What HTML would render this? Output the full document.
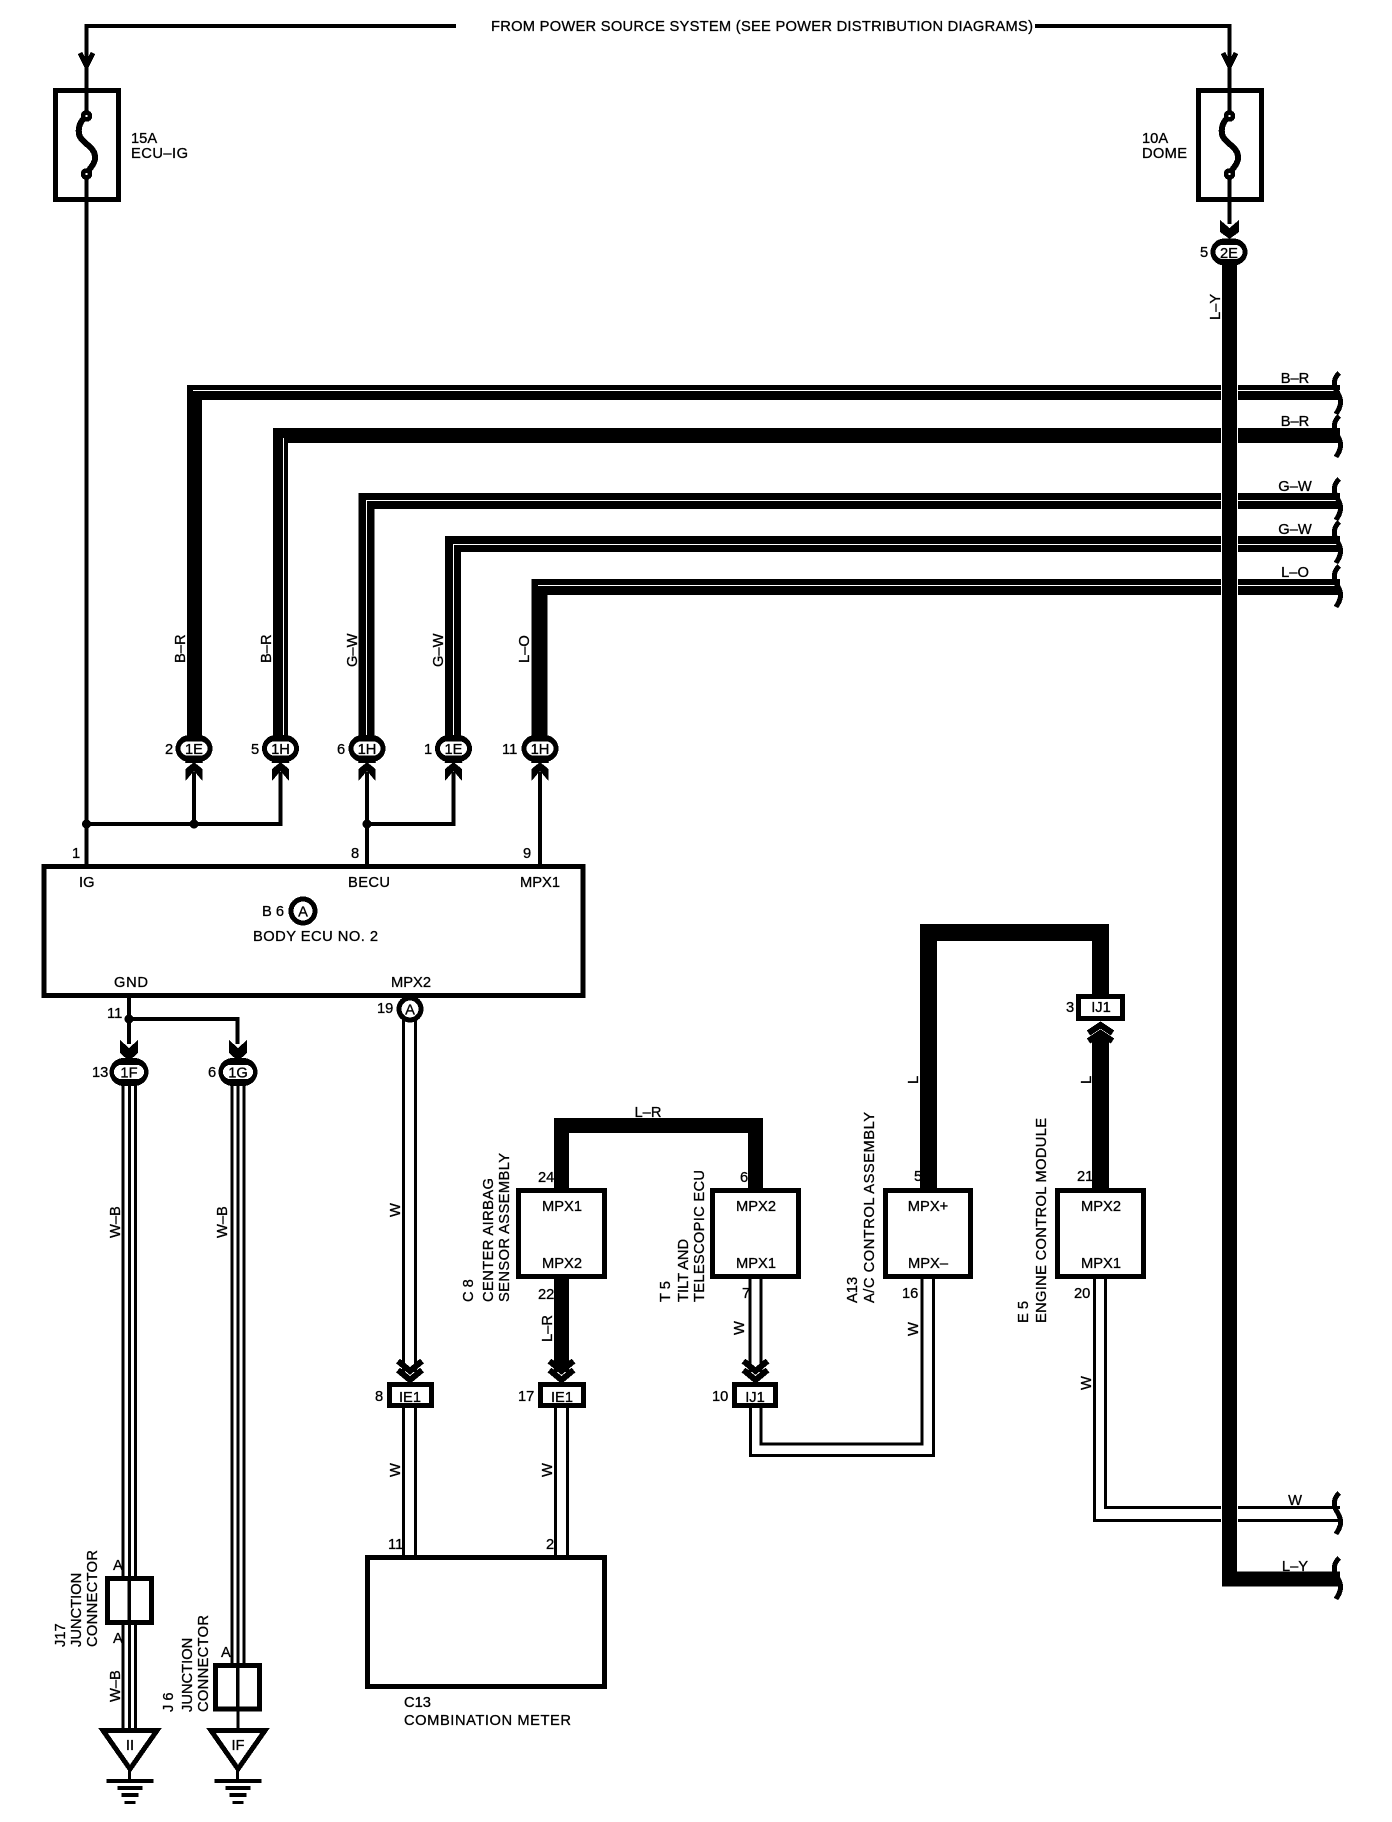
<!DOCTYPE html>
<html><head><meta charset="utf-8"><style>
html,body{margin:0;padding:0;background:#fff}
svg{display:block;shape-rendering:crispEdges}
text{font-family:"Liberation Sans",sans-serif;font-size:14.7px;fill:#000;stroke:#000;stroke-width:.3}
.m{text-anchor:middle}
.w{fill:none;stroke:#000}
</style></head><body>
<svg width="1392" height="1822" viewBox="0 0 1392 1822" xmlns="http://www.w3.org/2000/svg">
<defs>
<g id="fuse">
<path class="w" stroke-width="6" d="M85 117C80 122 78 128 79 134C81 143 94 146 95 156C96 163 90 168 87 173"/>
<circle cx="86.5" cy="116" r="3.5" fill="#fff" stroke="#000" stroke-width="4.5"/>
<circle cx="86.5" cy="174" r="3.5" fill="#fff" stroke="#000" stroke-width="4.5"/>
<rect x="55.5" y="90.5" width="63" height="109" fill="none" stroke="#000" stroke-width="5"/>
</g>
<g id="conn">
<rect x="-18.5" y="-13.5" width="37" height="27" rx="14" fill="#000"/>
<rect x="-13.5" y="-7" width="27" height="14" rx="7" fill="#fff"/>
</g>
<g id="up">
<polygon points="-8.5,33 0,23 8.5,33 8.5,21 0,14 -8.5,21"/>
<polygon points="-7,10 7,10 9,15 -9,15"/>
</g>
<polygon id="dn" points="-9,0 0,8 9,0 9,13 0,21 -9,13"/>
<g id="dbl">
<polyline class="w" stroke-width="6" points="-12,0 0,10 12,0"/>
<polyline class="w" stroke-width="6" points="-12,9 0,19 12,9"/>
</g>
<g id="gnd">
<rect x="-23" y="0" width="47" height="4"/>
<rect x="-12" y="7" width="25" height="4"/>
<rect x="-8" y="14" width="17" height="4"/>
<rect x="-5" y="22" width="11" height="3"/>
<rect x="-1.5" y="-9" width="3" height="9"/>
</g>
</defs>

<!-- top feed -->
<path class="w" stroke-width="4" d="M456 26H86.5V116"/>
<path class="w" stroke-width="4" d="M86.5 174V866"/>
<path class="w" stroke-width="4" d="M1035 26H1229.5V116"/>
<path class="w" stroke-width="4" d="M1229.5 174V224"/>
<path class="w" stroke-width="5" d="M80 53L86.5 66L93 53"/>
<path class="w" stroke-width="5" d="M1223 53L1229.5 66L1236 53"/>
<text x="491" y="31" textLength="542">FROM POWER SOURCE SYSTEM (SEE POWER DISTRIBUTION DIAGRAMS)</text>

<use href="#fuse"/>
<use href="#fuse" x="1143"/>
<text x="131" y="143">15A</text>
<text x="131" y="158" textLength="57">ECU–IG</text>
<text x="1142" y="143">10A</text>
<text x="1142" y="158" textLength="45">DOME</text>

<!-- bus wires -->
<path class="w" stroke-width="15" d="M194.5 748V392.5H1340"/>
<path class="w" stroke-width="15" d="M280.5 748V435.5H1340"/>
<path class="w" stroke-width="16" d="M366.5 748V501H1340"/>
<path class="w" stroke-width="16" d="M453 748V544H1340"/>
<path class="w" stroke-width="16" d="M539.5 748V587H1340"/>
<g fill="none" stroke="#fff" stroke-width="1">
<path d="M193 390.5H1340"/>
<path d="M283.5 438V738"/>
<path d="M366.5 738V500.5H1340"/>
<path d="M453.5 738V544.5H1340"/>
<path d="M538 585.5H1340"/>
</g>
<!-- W from E5 -->
<path class="w" stroke-width="3" d="M1094.5 1278V1520.5H1340"/>
<path class="w" stroke-width="3" d="M1105.5 1278V1507.5H1340"/>
<!-- L-Y vertical -->
<rect x="1221" y="370" width="17" height="1170" fill="#fff"/>
<path class="w" stroke-width="15" d="M1229.5 250V1579H1340"/>
<polygon points="1220,220 1229.5,228 1239,220 1239,232 1229.5,239 1220,232"/>
<polygon points="1222,264 1237,264 1237,272 1222,272"/>
<use href="#conn" x="1229" y="252"/>
<text class="m" x="1229" y="258">2E</text>
<text x="1200" y="257">5</text>
<text transform="translate(1220,320) rotate(-90)">L–Y</text>

<!-- curls -->
<g class="w" stroke-width="5">
<path class="w" id="c1" d="M1339 373C1334 378 1333 385 1336 390C1339 395 1342 400 1340 406C1339 410 1337 412 1336 414"/>
<use href="#c1" y="43"/>
<use href="#c1" y="106"/>
<use href="#c1" y="149"/>
<use href="#c1" y="193"/>
<use href="#c1" y="1120"/>
<use href="#c1" y="1185"/>
</g>

<text class="m" x="1295" y="383">B–R</text>
<text class="m" x="1295" y="426">B–R</text>
<text class="m" x="1295" y="491">G–W</text>
<text class="m" x="1295" y="534">G–W</text>
<text class="m" x="1295" y="577">L–O</text>
<text class="m" x="1295" y="1505">W</text>
<text class="m" x="1295" y="1571">L–Y</text>

<!-- vertical labels upper -->
<text transform="translate(185,663) rotate(-90)">B–R</text>
<text transform="translate(271,663) rotate(-90)">B–R</text>
<text transform="translate(357,667) rotate(-90)">G–W</text>
<text transform="translate(443,667) rotate(-90)">G–W</text>
<text transform="translate(529,663) rotate(-90)">L–O</text>

<!-- thin links -->
<path class="w" stroke-width="4" d="M194 772V824"/>
<path class="w" stroke-width="4" d="M280.5 772V824H86.5"/>
<path class="w" stroke-width="4" d="M367 772V866"/>
<path class="w" stroke-width="4" d="M453.5 772V824H367"/>
<path class="w" stroke-width="4" d="M540 772V866"/>
<path class="w" stroke-width="4" d="M129 996V1044"/>
<path class="w" stroke-width="4" d="M129 1019H237.5V1044"/>
<circle cx="86.5" cy="824" r="4.5"/>
<circle cx="194" cy="824" r="4.5"/>
<circle cx="367" cy="824" r="4.5"/>
<circle cx="129" cy="1019" r="4.5"/>

<!-- connectors row -->
<use href="#up" x="194" y="748"/>
<use href="#up" x="280.5" y="748"/>
<use href="#up" x="367" y="748"/>
<use href="#up" x="453.5" y="748"/>
<use href="#up" x="540" y="748"/>
<use href="#conn" x="194" y="748.5"/><text class="m" x="194" y="754">1E</text>
<use href="#conn" x="280.5" y="748.5"/><text class="m" x="280.5" y="754">1H</text>
<use href="#conn" x="367" y="748.5"/><text class="m" x="367" y="754">1H</text>
<use href="#conn" x="453.5" y="748.5"/><text class="m" x="453.5" y="754">1E</text>
<use href="#conn" x="540" y="748.5"/><text class="m" x="540" y="754">1H</text>
<text x="165" y="754">2</text>
<text x="251" y="754">5</text>
<text x="337" y="754">6</text>
<text x="424" y="754">1</text>
<text x="502" y="754">11</text>

<!-- ECU -->
<rect x="44" y="866.5" width="539" height="129" fill="#fff" stroke="#000" stroke-width="5"/>
<text x="72" y="858">1</text>
<text x="351" y="858">8</text>
<text x="523" y="858">9</text>
<text x="79" y="887">IG</text>
<text x="348" y="887" textLength="42">BECU</text>
<text x="520" y="887" textLength="40">MPX1</text>
<text x="262" y="916">B 6</text>
<circle cx="303" cy="911" r="12" fill="#fff" stroke="#000" stroke-width="5"/>
<text class="m" x="303" y="916.5">A</text>
<text x="253" y="941" textLength="125">BODY ECU NO. 2</text>
<text x="114" y="987" textLength="34">GND</text>
<text x="391" y="987" textLength="40">MPX2</text>

<!-- GND branches -->
<use href="#dn" x="129" y="1040"/>
<use href="#dn" x="238" y="1040"/>
<g stroke="#000" stroke-width="3">
<path d="M123 1080V1728M129.5 1080V1728M135.5 1080V1728"/>
<path d="M232 1080V1663M238 1080V1663M244 1080V1663"/>
<path d="M238 1711V1728"/>
</g>
<rect x="109.5" y="1058" width="39" height="28" rx="14"/>
<rect x="114" y="1065" width="30" height="14" rx="7" fill="#fff"/>
<text class="m" x="129" y="1077.5">1F</text>
<rect x="218.5" y="1058" width="39" height="28" rx="14"/>
<rect x="223" y="1065" width="30" height="14" rx="7" fill="#fff"/>
<text class="m" x="238" y="1077.5">1G</text>
<text x="92" y="1077">13</text>
<text x="208" y="1077">6</text>
<text x="107" y="1018">11</text>
<text transform="translate(120,1238) rotate(-90)">W–B</text>
<text transform="translate(227,1238) rotate(-90)">W–B</text>

<!-- J17 / J6 -->
<rect x="107.5" y="1578.5" width="44" height="44" fill="#fff" stroke="#000" stroke-width="5"/>
<rect x="127.5" y="1578" width="3.5" height="45"/>
<rect x="215.5" y="1665.5" width="44" height="43.5" fill="#fff" stroke="#000" stroke-width="5"/>
<rect x="236" y="1665" width="3.5" height="45"/>
<text x="113" y="1570">A</text>
<text x="113" y="1643">A</text>
<text x="221" y="1657">A</text>
<text transform="translate(120,1702) rotate(-90)">W–B</text>
<text transform="translate(65,1647) rotate(-90)">J17</text>
<text transform="translate(81,1647) rotate(-90)">JUNCTION</text>
<text transform="translate(97,1647) rotate(-90)" textLength="97">CONNECTOR</text>
<text transform="translate(173,1712) rotate(-90)">J 6</text>
<text transform="translate(192,1712) rotate(-90)">JUNCTION</text>
<text transform="translate(208,1712) rotate(-90)" textLength="97">CONNECTOR</text>

<!-- grounds -->
<polygon points="103,1730.5 157,1730.5 130,1769" fill="#fff" stroke="#000" stroke-width="5"/>
<polygon points="211,1730.5 265,1730.5 238,1769" fill="#fff" stroke="#000" stroke-width="5"/>
<text class="m" x="130" y="1750">II</text>
<text class="m" x="238" y="1750">IF</text>
<use href="#gnd" x="129.5" y="1779"/>
<use href="#gnd" x="237.5" y="1779"/>

<!-- MPX2 W down -->
<g stroke="#000" stroke-width="3">
<path d="M403.5 1015V1372M415.5 1015V1372"/>
<path d="M403.5 1408V1556M415.5 1408V1556"/>
<path d="M555.5 1408V1556M567.5 1408V1556"/>
</g>
<circle cx="410" cy="1009" r="11" fill="#fff" stroke="#000" stroke-width="5"/>
<text class="m" x="410" y="1014.5">A</text>
<text x="377" y="1013">19</text>
<text transform="translate(400,1217) rotate(-90)">W</text>
<text transform="translate(400,1477) rotate(-90)">W</text>
<text transform="translate(552,1477) rotate(-90)">W</text>
<use href="#dbl" x="410" y="1361"/>

<!-- C13 -->
<rect x="367.5" y="1557.5" width="237" height="129" fill="#fff" stroke="#000" stroke-width="5"/>
<text x="388" y="1549">11</text>
<text x="546" y="1549">2</text>
<text x="404" y="1707">C13</text>
<text x="404" y="1725" textLength="167">COMBINATION METER</text>

<!-- IE1 boxes -->
<rect x="389.5" y="1384.5" width="42" height="21" fill="#fff" stroke="#000" stroke-width="5"/>
<text class="m" x="410" y="1402">IE1</text>
<text x="375" y="1401">8</text>
<rect x="540.5" y="1384.5" width="43" height="21" fill="#fff" stroke="#000" stroke-width="5"/>
<text class="m" x="562" y="1402">IE1</text>
<text x="518" y="1401">17</text>
<rect x="734.5" y="1384.5" width="41" height="21" fill="#fff" stroke="#000" stroke-width="5"/>
<text class="m" x="755" y="1402">IJ1</text>
<text x="712" y="1401">10</text>

<!-- L-R -->
<path class="w" stroke-width="15" d="M561.5 1190V1125.5H755.5V1190"/>
<text class="m" x="648" y="1117">L–R</text>
<path class="w" stroke-width="15" d="M561.5 1278V1372"/>
<use href="#dbl" x="561.5" y="1361"/>
<text x="538" y="1182">24</text>
<text x="538" y="1299">22</text>
<text transform="translate(552,1342) rotate(-90)">L–R</text>
<text x="740" y="1182">6</text>
<text x="742" y="1298">7</text>
<text transform="translate(744,1335) rotate(-90)">W</text>

<!-- C8 T5 boxes -->
<rect x="518.5" y="1190.5" width="86" height="86" fill="#fff" stroke="#000" stroke-width="5"/>
<text class="m" x="562" y="1211">MPX1</text>
<text class="m" x="562" y="1268">MPX2</text>
<rect x="712.5" y="1190.5" width="86" height="86" fill="#fff" stroke="#000" stroke-width="5"/>
<text class="m" x="756" y="1211">MPX2</text>
<text class="m" x="756" y="1268">MPX1</text>
<text transform="translate(473,1302) rotate(-90)">C 8</text>
<text transform="translate(493,1302) rotate(-90)" textLength="124">CENTER AIRBAG</text>
<text transform="translate(509,1302) rotate(-90)" textLength="149">SENSOR ASSEMBLY</text>
<text transform="translate(670,1302) rotate(-90)">T 5</text>
<text transform="translate(688,1302) rotate(-90)">TILT AND</text>
<text transform="translate(704,1302) rotate(-90)" textLength="132">TELESCOPIC ECU</text>

<!-- T5 W and A13 W -->
<g stroke="#000" stroke-width="3">
<path d="M750 1278V1372M761 1278V1372"/>
</g>
<use href="#dbl" x="755.5" y="1361"/>
<path class="w" stroke-width="3" d="M750.5 1408V1455.5H933.5V1278"/>
<path class="w" stroke-width="3" d="M761 1408V1444H922V1278"/>
<text transform="translate(918,1336) rotate(-90)">W</text>
<text transform="translate(1091,1390) rotate(-90)">W</text>

<!-- L big -->
<path class="w" stroke-width="17" d="M928.5 1190V932.5H1100.5V996"/>
<path class="w" stroke-width="17" d="M1100.5 1036V1190"/>
<polyline class="w" stroke-width="6" points="1088.5,1033 1100.5,1025 1112.5,1033"/>
<polyline class="w" stroke-width="6" points="1088.5,1041 1100.5,1033 1112.5,1041"/>
<rect x="1078.5" y="996.5" width="44" height="22" fill="#fff" stroke="#000" stroke-width="5"/>
<text class="m" x="1101" y="1012">IJ1</text>
<text x="1066" y="1012">3</text>
<text transform="translate(918,1084) rotate(-90)">L</text>
<text transform="translate(1091,1084) rotate(-90)">L</text>
<text x="914" y="1181">5</text>
<text x="1077" y="1181">21</text>
<text x="902" y="1298">16</text>
<text x="1074" y="1298">20</text>

<!-- A13 E5 boxes -->
<rect x="885.5" y="1190.5" width="85" height="86" fill="#fff" stroke="#000" stroke-width="5"/>
<text class="m" x="928" y="1211">MPX+</text>
<text class="m" x="928" y="1268">MPX–</text>
<rect x="1057.5" y="1190.5" width="86" height="86" fill="#fff" stroke="#000" stroke-width="5"/>
<text class="m" x="1101" y="1211">MPX2</text>
<text class="m" x="1101" y="1268">MPX1</text>
<text transform="translate(857,1303) rotate(-90)">A13</text>
<text transform="translate(874,1303) rotate(-90)" textLength="191">A/C CONTROL ASSEMBLY</text>
<text transform="translate(1028,1323) rotate(-90)">E 5</text>
<text transform="translate(1046,1323) rotate(-90)" textLength="205">ENGINE CONTROL MODULE</text>
</svg>
</body></html>
